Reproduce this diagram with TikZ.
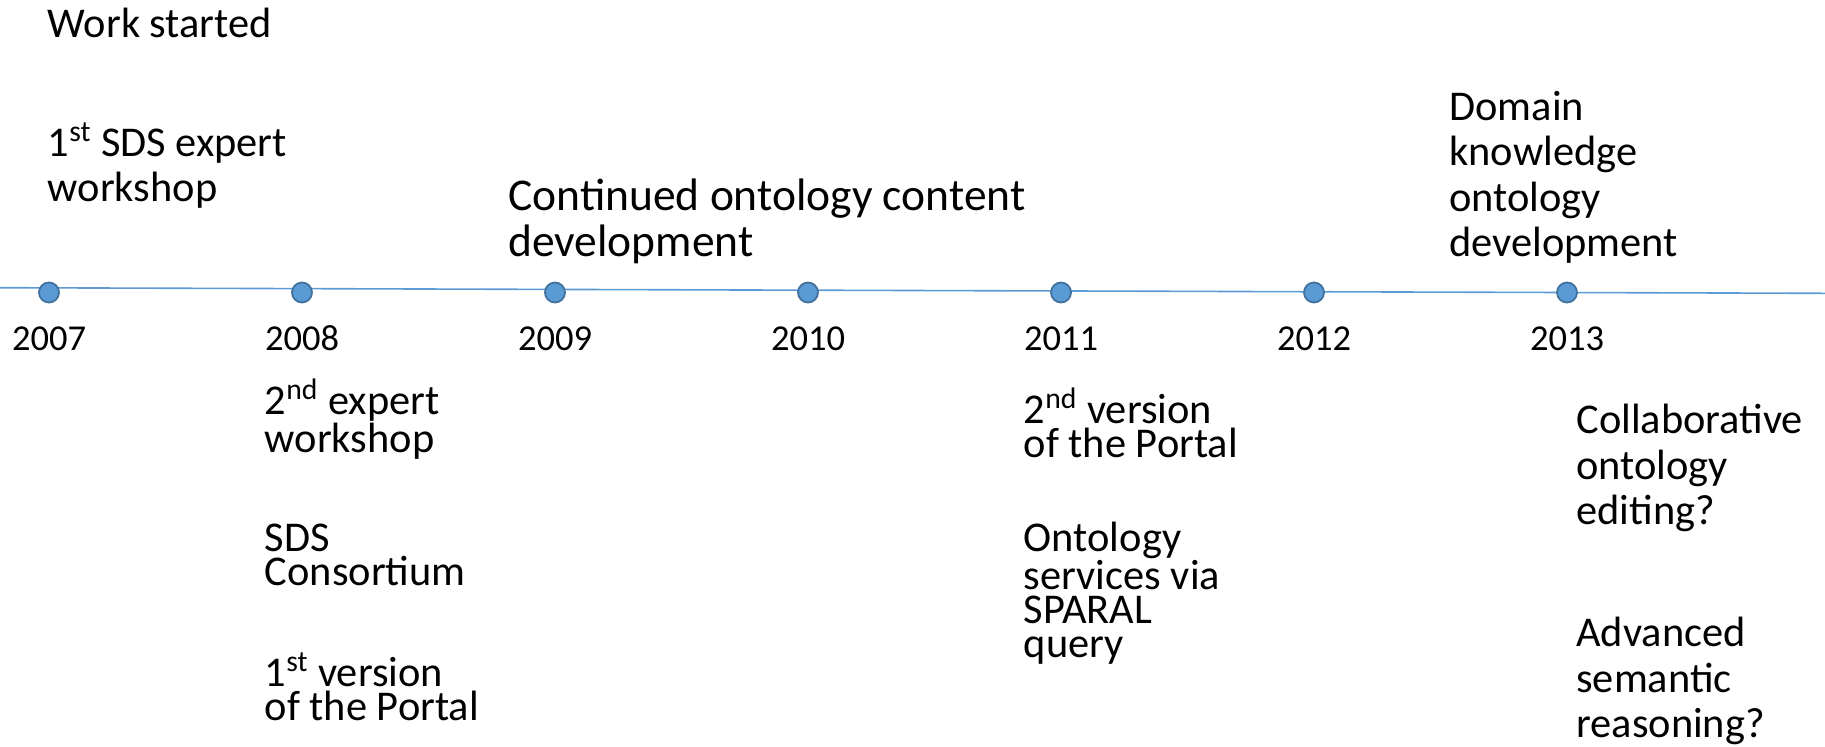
\documentclass[tikz,border=0pt]{standalone}
\usepackage{fontspec}
\setmainfont{Carlito}
\definecolor{lineblue}{HTML}{5B9BD5}
\definecolor{dotedge}{HTML}{41719C}
\tikzset{
  yeardot/.style={circle, fill=lineblue, draw=dotedge, line width=0.9pt, minimum size=10pt, inner sep=0pt},
  yearlbl/.style={anchor=base, inner sep=0pt, font=\fontsize{18.25}{22}\selectfont},
  evtext/.style={anchor=base west, inner sep=0pt, align=left, font=\fontsize{21.2}{22.75}\selectfont},
  evtight/.style={evtext, font=\fontsize{21.2}{16.9}\selectfont},
  evbig/.style={evtext, font=\fontsize{22.75}{23.25}\selectfont},
}

\begin{document}
\begin{tikzpicture}[x=0.5pt, y=-0.5pt]
  \useasboundingbox (0,0) rectangle (1825,746);

  \newcommand\dx{253}
  \newcommand\xo{49}

  % time line
  \coordinate (lstart) at (0, 287.7);
  \coordinate (lend) at (1825, 293.3);
  \draw[lineblue, line width=0.8pt] (lstart) -- (lend);

  % dots
  \node[yeardot] (d2007) at (\xo+0*\dx, 292.5) {};
  \node[yeardot] (d2008) at (\xo+1*\dx, 292.5) {};
  \node[yeardot] (d2009) at (\xo+2*\dx, 292.5) {};
  \node[yeardot] (d2010) at (\xo+3*\dx, 292.5) {};
  \node[yeardot] (d2011) at (\xo+4*\dx, 292.5) {};
  \node[yeardot] (d2012) at (\xo+5*\dx, 292.5) {};
  \node[yeardot] (d2013) at (\xo+6*\dx, 292.5) {};

  % years
  \node[yearlbl] (y2007) at (\xo+0*\dx, 350) {2007};
  \node[yearlbl] (y2008) at (\xo+1*\dx, 350) {2008};
  \node[yearlbl] (y2009) at (\xo+2*\dx, 350) {2009};
  \node[yearlbl] (y2010) at (\xo+3*\dx, 350) {2010};
  \node[yearlbl] (y2011) at (\xo+4*\dx, 350) {2011};
  \node[yearlbl] (y2012) at (\xo+5*\dx, 350) {2012};
  \node[yearlbl] (y2013) at (\xo+6*\dx, 350) {2013};

  % above the line (anchor = baseline of last line)
  \node[evtext] (start) at (47.5, 37.3) {Work started};
  \node[evtext] (wshop1) at (47.5, 201.7) {1\textsuperscript{st} SDS expert\\workshop};
  \node[evbig] (contdev) at (508, 256.5) {Continued ontology content\\development};
  \node[evtext] (domain) at (1449, 256.7) {Domain\\knowledge\\ontology\\development};

  % below the line
  \node[evtight] (wshop2) at (264.5, 452.5) {2\textsuperscript{nd} expert\\workshop};
  \node[evtight] (consort) at (264.5, 585.3) {SDS\\Consortium};
  \node[evtight] (portal1) at (264.5, 720.3) {1\textsuperscript{st} version\\of the Portal};
  \node[evtight] (portal2) at (1023.5, 457.3) {2\textsuperscript{nd} version\\of the Portal};
  \node[evtight] (services) at (1023.5, 657.3) {Ontology\\services via\\SPARAL\\query};
  \node[evtext] (collab) at (1576, 524.5) {Collaborative\\ontology\\editing?};
  \node[evtext] (reason) at (1576, 737.5) {Advanced\\semantic\\reasoning?};

\end{tikzpicture}
\end{document}
